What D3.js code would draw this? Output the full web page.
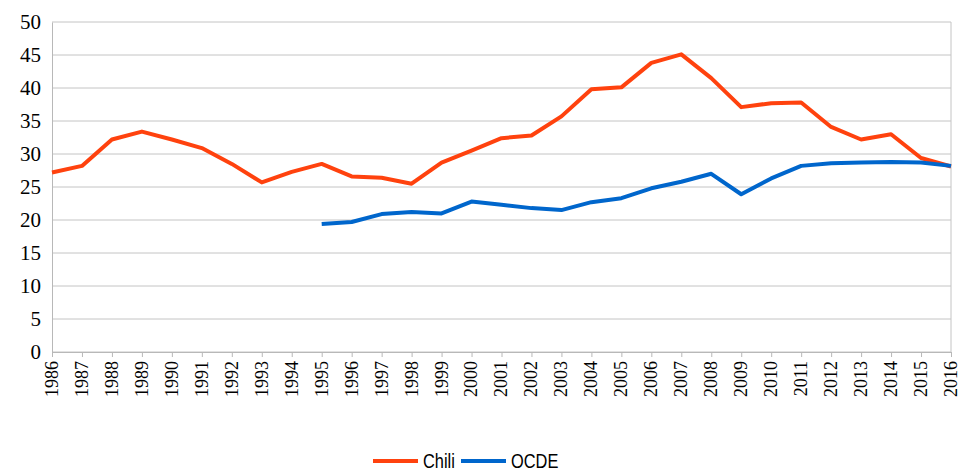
<!DOCTYPE html>
<html>
<head>
<meta charset="utf-8">
<script src="https://cdn.jsdelivr.net/npm/d3@7"></script>
<style>
  body { margin: 0; background: #fff; }
  svg { display: block; }
</style>
</head>
<body>
<svg id="chart" width="961" height="473"></svg>
<script>
// years on the x axis
const years = d3.range(1986, 2017);

// Chili, 1986-2016
const chili = [27.2, 28.2, 32.2, 33.4, 32.2, 30.9, 28.5, 25.7, 27.3, 28.5,
  26.6, 26.4, 25.5, 28.7, 30.5, 32.4, 32.8, 35.7, 39.8, 40.1,
  43.8, 45.1, 41.5, 37.1, 37.7, 37.8, 34.1, 32.2, 33.0, 29.4, 28.1];

// OCDE, 1995-2016 (nothing before)
const ocdeStart = 1995;
const ocde = [19.4, 19.7, 20.9, 21.2, 21.0, 22.8, 22.3, 21.8, 21.5, 22.7,
  23.3, 24.8, 25.8, 27.0, 23.9, 26.3, 28.2, 28.6, 28.7, 28.8, 28.7, 28.2];

const yTicks = d3.range(0, 51, 5);

const series = [
  { name: 'Chili', color: '#ff420e', values: chili.map((v, i) => ({ year: years[i], v })) },
  { name: 'OCDE', color: '#0066cc', values: ocde.map((v, i) => ({ year: ocdeStart + i, v })) }
];

const serif = "'Liberation Serif', 'Times New Roman', serif";
const sans = "'Liberation Sans', Arial, sans-serif";

const svg = d3.select('#chart');
const m = { left: 52, right: 951, top: 22, bottom: 352 };

const x = d3.scaleLinear().domain([1986, 2016]).range([m.left, m.right]);
const y = d3.scaleLinear().domain([0, 50]).range([m.bottom, m.top]);

// horizontal grid
svg.append('g')
  .selectAll('line')
  .data(yTicks)
  .enter().append('line')
    .attr('x1', m.left).attr('x2', m.right)
    .attr('y1', d => y(d)).attr('y2', d => y(d))
    .attr('stroke', '#c4c4c4').attr('stroke-width', 1);

// right border
svg.append('line')
  .attr('x1', m.right).attr('x2', m.right)
  .attr('y1', m.top).attr('y2', m.bottom)
  .attr('stroke', '#c4c4c4');

// y axis: d3 draws the line, labels drawn separately so the serif font sticks
const yAxis = svg.append('g')
  .attr('transform', `translate(${m.left},0)`)
  .call(d3.axisLeft(y).tickValues(yTicks).tickSize(0).tickFormat(''));
yAxis.select('.domain').attr('stroke', '#b8b8b8');

svg.append('g')
  .selectAll('text')
  .data(yTicks)
  .enter().append('text')
    .attr('x', m.left - 11)
    .attr('y', d => y(d))
    .attr('dy', '0.33em')
    .attr('text-anchor', 'end')
    .style('font-family', serif)
    .style('font-size', '21px')
    .attr('fill', '#000')
    .text(d => d);

// x axis
const xAxis = svg.append('g')
  .attr('transform', `translate(0,${m.bottom})`)
  .call(d3.axisBottom(x).tickValues(years).tickFormat('').tickSize(5).tickSizeOuter(0));
xAxis.select('.domain').attr('stroke', '#b8b8b8');
xAxis.selectAll('.tick line').attr('stroke', '#b8b8b8');

svg.append('g')
  .selectAll('text')
  .data(years)
  .enter().append('text')
    .attr('transform', d => `translate(${x(d)},${m.bottom + 9}) rotate(-90)`)
    .attr('dy', '0.33em')
    .attr('text-anchor', 'end')
    .style('font-family', serif)
    .style('font-size', '18px')
    .attr('fill', '#000')
    .text(d => d);

// lines
const line = d3.line().x(d => x(d.year)).y(d => y(d.v));
svg.append('g')
  .selectAll('path')
  .data(series)
  .enter().append('path')
    .attr('d', d => line(d.values))
    .attr('fill', 'none')
    .attr('stroke', d => d.color)
    .attr('stroke-width', 4)
    .attr('stroke-linejoin', 'round');

// legend (narrow sans faked with a horizontal squeeze)
const legendX = [373, 461];
const legend = svg.append('g').attr('transform', 'translate(0,461)');
const items = legend.selectAll('g')
  .data(series)
  .enter().append('g')
    .attr('transform', (d, i) => `translate(${legendX[i]},0)`);
items.append('line')
  .attr('x1', 0).attr('x2', 45).attr('y1', 0).attr('y2', 0)
  .attr('stroke', d => d.color).attr('stroke-width', 4);
items.append('text')
  .attr('transform', 'translate(50,0) scale(0.82,1)')
  .attr('dy', '0.36em')
  .style('font-family', sans)
  .style('font-size', '20px')
  .attr('fill', '#000')
  .text(d => d.name);
</script>
</body>
</html>
